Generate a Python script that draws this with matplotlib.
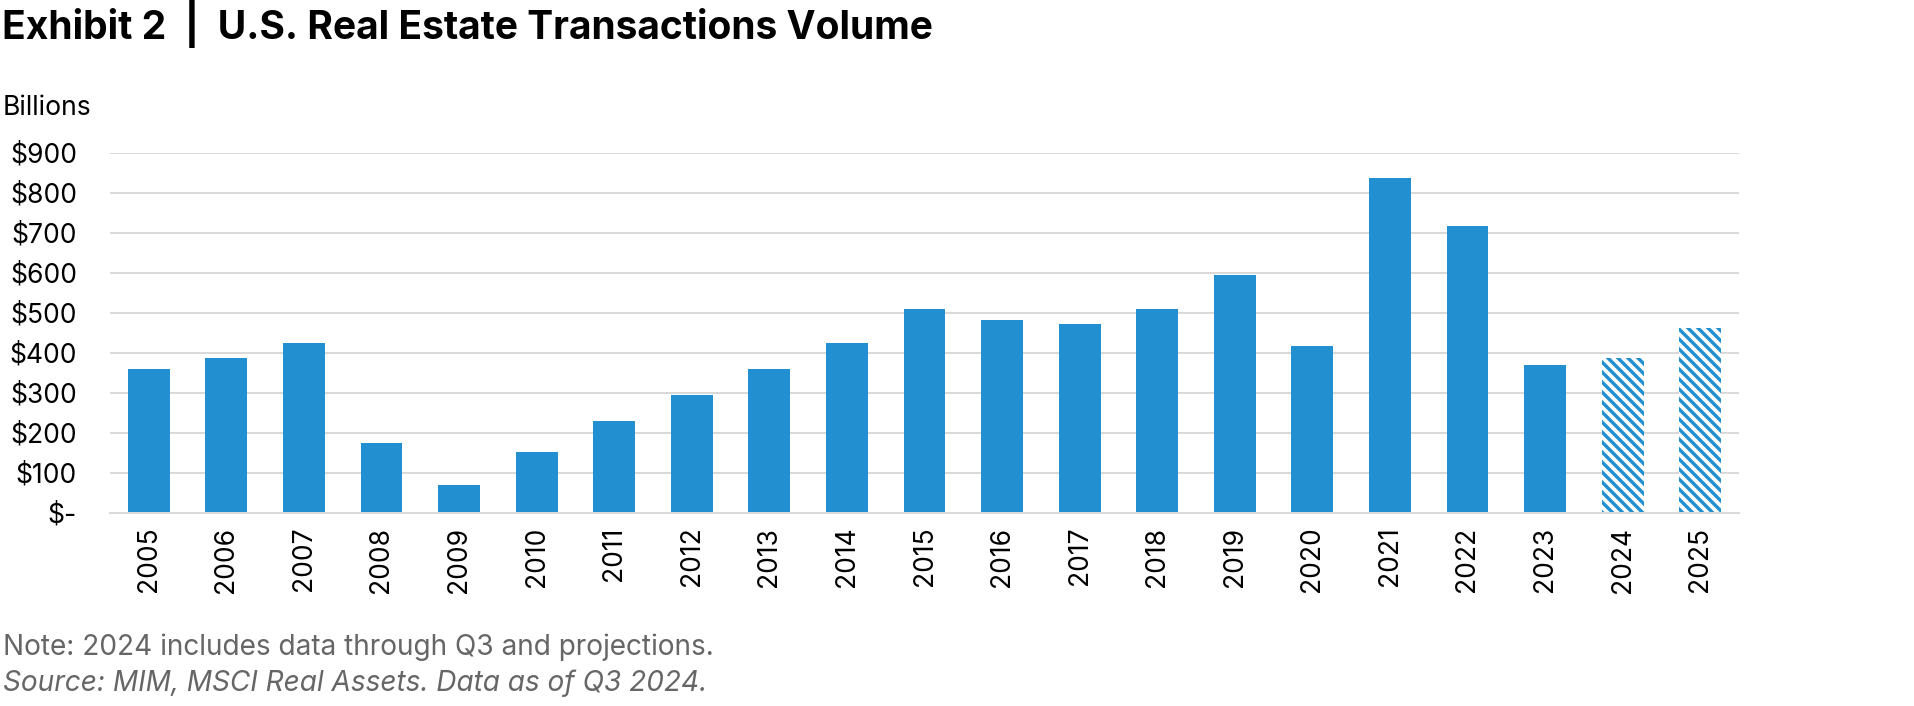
import matplotlib
matplotlib.use("Agg")
import matplotlib.pyplot as plt

years = [str(y) for y in range(2005, 2026)]
volume = [360, 387, 424, 174, 70, 153, 229, 294, 360, 424, 510,
          482, 473, 510, 595, 416, 837, 716, 369, 387, 463]
projected = ["2024", "2025"]
y_ticks = [0, 100, 200, 300, 400, 500, 600, 700, 800, 900]
y_labels = ["$-"] + ["${}".format(v) for v in y_ticks[1:]]

BLUE = "#2290D0"
GRID = "#D9D9D9"
W, H = 1914, 706
DPI = 120


def pt(px):  # pixels -> points at this dpi
    return px * 72 / DPI


plt.rcParams["font.family"] = ["Inter", "DejaVu Sans"]
plt.rcParams["hatch.linewidth"] = pt(3.4)
plt.rcParams["hatch.color"] = BLUE

fig = plt.figure(figsize=(W / DPI, H / DPI), dpi=DPI)
ax = fig.add_axes([110 / W, 1 - 512.7 / H, (1739 - 110) / W, 360 / H])

for i, (yr, v) in enumerate(zip(years, volume)):
    if yr in projected:
        ax.bar(i, v, width=0.54, facecolor="white", edgecolor=BLUE,
               hatch="\\\\\\\\", linewidth=0, zorder=3)
    else:
        ax.bar(i, v, width=0.54, color=BLUE, zorder=3)

ax.set_xlim(-0.5, len(years) - 0.5)
ax.set_ylim(0, 900)
ax.set_yticks(y_ticks)
ax.set_yticklabels(y_labels)
ax.set_xticks(range(len(years)))
ax.set_xticklabels(years, rotation=90)
ax.tick_params(axis="y", length=0, pad=pt(33), labelsize=pt(26.5))
ax.tick_params(axis="x", length=0, pad=pt(14), labelsize=pt(26.5))
ax.grid(axis="y", color=GRID, linewidth=pt(2), zorder=0)
for s in ["top", "right", "left"]:
    ax.spines[s].set_visible(False)
ax.spines["bottom"].set_color(GRID)
ax.spines["bottom"].set_linewidth(pt(2))
ax.spines["bottom"].set_zorder(4)

# titles and notes
fig.text(2 / W, 1 - 39 / H, "Exhibit 2  |  U.S. Real Estate Transactions Volume",
         fontsize=pt(39), fontweight="bold", ha="left", va="baseline")
fig.text(3 / W, 1 - 115 / H, "Billions", fontsize=pt(26.5), ha="left", va="baseline")
fig.text(3 / W, 1 - 655 / H, "Note: 2024 includes data through Q3 and projections.",
         fontsize=pt(28), color="#666666", ha="left", va="baseline")
fig.text(3 / W, 1 - 691 / H, "Source: MIM, MSCI Real Assets. Data as of Q3 2024.",
         fontsize=pt(28), color="#666666", style="italic", ha="left", va="baseline")

fig.savefig("out.png", dpi=DPI)
